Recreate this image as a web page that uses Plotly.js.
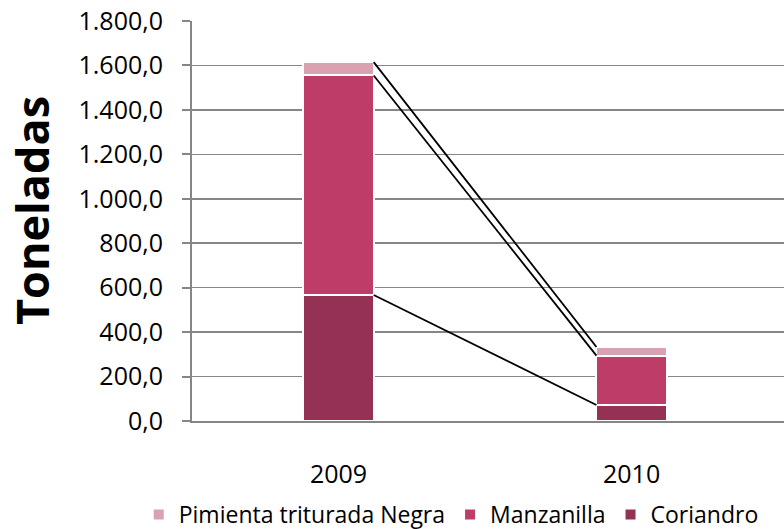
<!DOCTYPE html>
<html>
<head>
<meta charset="utf-8">
<script src="https://cdn.plot.ly/plotly-3.0.1.min.js"></script>
<style>html,body{margin:0;padding:0;background:#fff;}#chart{width:784px;height:529px;}</style>
</head>
<body>
<div id="chart"></div>
<script>
const years = ['2009', '2010'];
const coriandro = [567, 72];
const manzanilla = [988, 222];
const pimienta = [60, 39];
const seriesNames = ['Coriandro', 'Manzanilla', 'Pimienta triturada Negra'];
const seriesColors = ['#953154', '#BD3D68', '#D8A2B1'];
const yTitle = 'Toneladas';

const pos = years.map((_, i) => i);
const barWidth = 0.24;
const FONT = 'Open Sans, sans-serif';

const seriesData = [coriandro, manzanilla, pimienta];
const traces = seriesData.map((vals, k) => ({
  type: 'bar', x: pos, y: vals, name: seriesNames[k], width: barWidth,
  marker: {color: seriesColors[k], line: {color: '#ffffff', width: 2}},
  hoverinfo: 'y+name'
}));

// series lines connecting segment tops between the two bars
let cum = years.map(() => 0);
const lineTraces = [];
seriesData.forEach((vals) => {
  cum = cum.map((c, i) => c + vals[i]);
  lineTraces.push({
    type: 'scatter', mode: 'lines',
    x: [pos[0] + barWidth / 2, pos[1] - barWidth / 2],
    y: [cum[0], cum[1]],
    line: {color: '#000000', width: 1.8},
    showlegend: false, hoverinfo: 'skip'
  });
});

const layout = {
  width: 784, height: 529,
  margin: {l: 192, r: 0, t: 21, b: 108, autoexpand: false},
  paper_bgcolor: '#ffffff', plot_bgcolor: '#ffffff',
  separators: ',.',
  barmode: 'stack',
  font: {family: FONT, size: 20, color: '#000000'},
  showlegend: true,
  legend: {orientation: 'h', x: -0.09, xanchor: 'left', y: -0.18, yanchor: 'top',
           traceorder: 'reversed', itemwidth: 30,
           font: {family: FONT, size: 23, color: '#000'}},
  xaxis: {range: [-0.5, 1.52], tickvals: pos, ticktext: years, showgrid: false,
          zeroline: false, showline: true, linecolor: '#868686', linewidth: 2,
          ticks: '', ticklabelstandoff: 30, tickfont: {family: FONT, size: 25}, fixedrange: true},
  yaxis: {range: [0, 1800], dtick: 200, tickformat: ',.1f', showgrid: true,
          gridcolor: '#868686', gridwidth: 1.5, zeroline: false, showline: true,
          linecolor: '#868686', linewidth: 2, ticks: 'outside', ticklen: 8,
          tickcolor: '#868686', tickwidth: 2, ticklabelstandoff: 14,
          tickfont: {family: FONT, size: 25},
          fixedrange: true},
  annotations: [{
    text: yTitle, textangle: -90, xref: 'paper', yref: 'paper',
    x: -0.272, y: 0.5275, xanchor: 'center', yanchor: 'middle', showarrow: false,
    font: {family: FONT, size: 45, weight: 'bold', color: '#000'}
  }]
};

Plotly.newPlot('chart', [...traces, ...lineTraces], layout, {displayModeBar: false, staticPlot: true});
</script>
</body>
</html>
